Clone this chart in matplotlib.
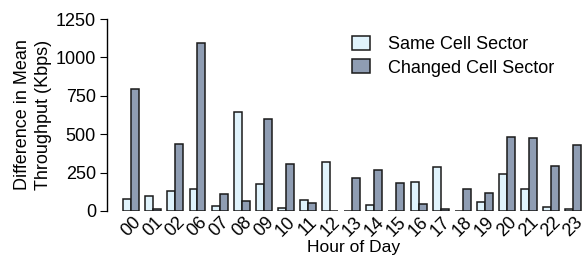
import numpy as np
import matplotlib
matplotlib.use('Agg')
import matplotlib.pyplot as plt

plt.rcParams['font.family'] = ['Liberation Sans', 'DejaVu Sans']

hours = ['00', '01', '02', '06', '07', '08', '09', '10', '11', '12', '13', '14',
         '15', '16', '17', '18', '19', '20', '21', '22', '23']
same_sector = [78, 100, 130, 143, 33, 642, 176, 22, 70, 321, 3, 41,
               2, 187, 286, 1, 59, 239, 141, 26, 11]
changed_sector = [792, 15, 434, 1092, 111, 65, 599, 308, 52, 3, 217, 265,
                  180, 46, 15, 141, 115, 484, 475, 291, 432]

fig = plt.figure(figsize=(5.85, 2.57), dpi=100)
ax = fig.add_axes([0.183, 0.179, 0.814, 0.747])

x = np.arange(len(hours))
w = 0.36
ax.bar(x - w / 2, same_sector, w, color='#e0f3fc', edgecolor='#1a1a1a',
       linewidth=1.1, label='Same Cell Sector')
ax.bar(x + w / 2, changed_sector, w, color='#8f9db3', edgecolor='#1a1a1a',
       linewidth=1.1, label='Changed Cell Sector')

ax.set_ylim(0, 1250)
ax.set_yticks([0, 250, 500, 750, 1000, 1250])
ax.set_xlim(-1.09, len(hours) - 0.55)
ax.set_xticks(x)
ax.set_xticklabels(hours, rotation=45, ha='center', va='top')
ax.tick_params(axis='x', length=0, labelsize=13, pad=2)
ax.tick_params(axis='y', direction='out', length=5, labelsize=13, pad=3)
for s in ['top', 'right', 'bottom']:
    ax.spines[s].set_visible(False)
ax.spines['left'].set_linewidth(1.0)

ax.set_ylabel('Difference in Mean\nThroughput (Kbps)', fontsize=13,
              linespacing=1.35)
ax.yaxis.set_label_coords(-0.115, 0.5)
ax.set_xlabel('Hour of Day', fontsize=12.5)
ax.xaxis.set_label_coords(0.517, -0.15)
ax.legend(loc='upper left', bbox_to_anchor=(0.50, 0.95), frameon=False,
          fontsize=13, handlelength=1.0, handleheight=0.8, labelspacing=0.35,
          handletextpad=1.0, borderaxespad=0)

fig.savefig('out.png', dpi=100)
